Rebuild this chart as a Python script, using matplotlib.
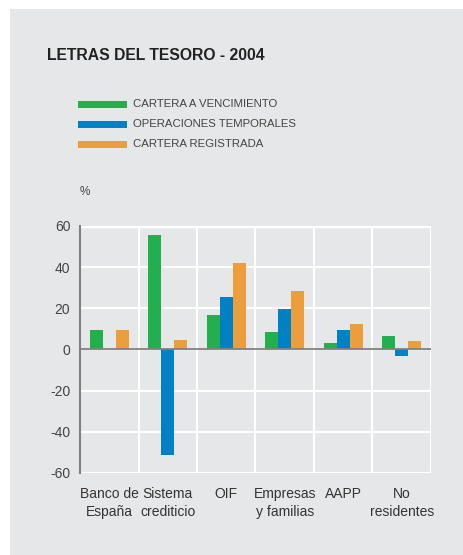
import matplotlib.pyplot as plt
import matplotlib.patches as mpatches
import numpy as np

plt.rcParams['font.family'] = ['Liberation Sans', 'DejaVu Sans']

# Data (%)
categories = ['Banco de\nEspaña', 'Sistema\ncrediticio', 'OIF', 'Empresas\ny familias', 'AAPP', 'No\nresidentes']
series_names = ['CARTERA A VENCIMIENTO', 'OPERACIONES TEMPORALES', 'CARTERA REGISTRADA']
vencimiento = [9.7, 55.6, 16.9, 8.7, 3.4, 6.8]
temporales = [0.0, -51.3, 25.6, 19.8, 9.7, -3.2]
registrada = [9.7, 4.8, 42.1, 28.5, 12.6, 3.9]
yticks = [-60, -40, -20, 0, 20, 40, 60]

colors = ['#23AF4E', '#0080C5', '#EC9E3D']
bg = '#E6E7E8'
W, H = 464, 555

fig = plt.figure(figsize=(W / 100, H / 100), dpi=100, facecolor='white')
# grey panel (thin white margin on left/top in the reference)
fig.patches.append(mpatches.Rectangle((10 / W, -0.01), 1, 1.01 - 9 / H, transform=fig.transFigure,
                                      facecolor=bg, edgecolor='none', zorder=-10))

ax = fig.add_axes([80 / W, 1 - 473 / H, (431 - 80) / W, (473 - 226) / H])
ax.set_facecolor(bg)

x = np.arange(len(categories))
w = 0.222
for i, vals in enumerate([vencimiento, temporales, registrada]):
    ax.bar(x + (i - 1) * w, vals, width=w, color=colors[i], zorder=3)

ax.set_xlim(-0.5, len(categories) - 0.5)
ax.set_ylim(-60, 60)
ax.set_yticks(yticks)
ax.set_yticklabels([str(t) for t in yticks], fontsize=10, color='#444444')
ax.set_xticks(x)
ax.set_xticklabels(categories, fontsize=10, color='#333333', linespacing=1.35)
ax.tick_params(length=0, pad=10)
ax.tick_params(axis='y', pad=7)

# white grid: category separators and horizontal lines
ax.set_xticks(np.arange(0.5, len(categories) - 0.5, 1), minor=True)
ax.tick_params(which='minor', length=0)
ax.grid(axis='x', which='minor', color='white', linewidth=1.5, zorder=1)
ax.grid(axis='y', which='major', color='white', linewidth=1.5, zorder=1)
ax.axhline(60, color='white', linewidth=2.5, zorder=1)
ax.axvline(len(categories) - 0.5, color='white', linewidth=1.5, zorder=1)
ax.axhline(0, color='#808080', linewidth=1.3, zorder=4)

for s in ['top', 'right', 'bottom']:
    ax.spines[s].set_visible(False)
ax.spines['left'].set_color('#808080')
ax.spines['left'].set_linewidth(1.5)
ax.spines['left'].set_zorder(5)

# title, legend and unit label
fig.text(47 / W, 1 - 55 / H, 'LETRAS DEL TESORO - 2004', fontsize=11.3, fontweight='bold',
         color='#222222', va='center', ha='left')
for i, name in enumerate(series_names):
    yc = 1 - (104 + 20 * i) / H
    fig.patches.append(mpatches.Rectangle((78 / W, yc - 3.5 / H), 49 / W, 7 / H,
                                          transform=fig.transFigure, facecolor=colors[i],
                                          edgecolor='none', zorder=2))
    fig.text(133 / W, yc, name, fontsize=8.2, color='#444444', va='center', ha='left')
fig.text(80 / W, 1 - 192 / H, '%', fontsize=8.5, color='#444444', va='center', ha='left')

plt.savefig('out.png', dpi=100, facecolor='white')
plt.close()
